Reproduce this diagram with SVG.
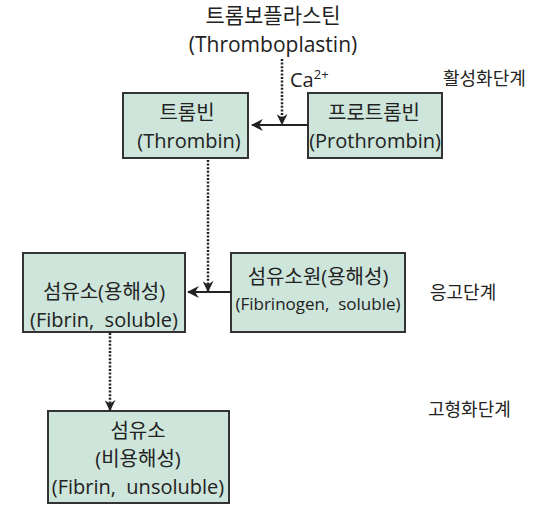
<svg xmlns="http://www.w3.org/2000/svg" width="539" height="511" viewBox="0 0 539 511">
<style>
text{font-family:"Open Sans","Noto Sans CJK KR",sans-serif;fill:#222;text-anchor:middle;white-space:pre}
.t{font-size:20px}
.h{font-size:21px}
.s{font-size:17px}
.box{fill:#cde5da;stroke:#333;stroke-width:2}
.solid{stroke:#222;stroke-width:2;fill:none}
.dot{stroke:#222;stroke-width:2.5;fill:none;stroke-dasharray:2 1.6}
.lab{font-size:18px;text-anchor:start}
</style>
<defs>
<marker id="ah" viewBox="0 0 10 10" refX="9" refY="5" markerWidth="11" markerHeight="11" orient="auto" markerUnits="userSpaceOnUse">
<path d="M0,0 L10,5 L0,10 L3,5 z" fill="#222"/>
</marker>
<marker id="ahb" viewBox="0 0 10 10" refX="9" refY="5" markerWidth="12" markerHeight="12" orient="auto" markerUnits="userSpaceOnUse">
<path d="M0,0 L10,5 L0,10 L3,5 z" fill="#222"/>
</marker>
</defs>
<g id="thromboplastin">
<text class="h"><tspan x="273" y="23">트롬보플라스틴</tspan><tspan x="273" y="52">(Thromboplastin)</tspan></text>
</g>
<g id="ca">
<text class="t" x="290" y="87" style="text-anchor:start">Ca<tspan font-size="13" dy="-8">2+</tspan></text>
</g>
<g id="thrombin">
<rect class="box" x="123" y="93" width="125" height="65"/>
<text class="t"><tspan x="187" y="120">트롬빈</tspan><tspan x="189" y="148">(Thrombin)</tspan></text>
</g>
<g id="prothrombin">
<rect class="box" x="308" y="93" width="134" height="65"/>
<text class="t"><tspan x="374" y="120">프로트롬빈</tspan><tspan x="375" y="148">(Prothrombin)</tspan></text>
</g>
<g id="fibrin-soluble">
<rect class="box" x="23" y="253" width="162" height="79"/>
<text class="t"><tspan x="104" y="299">섬유소(용해성)</tspan><tspan x="104" y="327">(Fibrin,  soluble)</tspan></text>
</g>
<g id="fibrinogen">
<rect class="box" x="231" y="253" width="174" height="79"/>
<text class="t"><tspan x="318" y="284">섬유소원(용해성)</tspan><tspan x="318" y="310" font-size="17">(Fibrinogen,  soluble)</tspan></text>
</g>
<g id="fibrin-unsoluble">
<rect class="box" x="48" y="411" width="181" height="92"/>
<text class="t"><tspan x="138" y="438">섬유소</tspan><tspan x="138" y="466">(비용해성)</tspan><tspan x="138" y="494">(Fibrin,  unsoluble)</tspan></text>
</g>
<g id="stage-labels">
<text class="lab" x="443" y="85">활성화단계</text>
<text class="lab" x="430" y="299">응고단계</text>
<text class="lab" x="428" y="416">고형화단계</text>
</g>
<g id="connectors">
<line class="solid" x1="308" y1="125" x2="252" y2="125" marker-end="url(#ahb)"/>
<line class="dot" x1="282" y1="59" x2="282" y2="124" marker-end="url(#ah)"/>
<line class="solid" x1="231" y1="292" x2="188" y2="292" marker-end="url(#ahb)"/>
<line class="dot" x1="208" y1="160" x2="208" y2="291" marker-end="url(#ah)"/>
<line class="dot" x1="110" y1="333" x2="110" y2="410" marker-end="url(#ah)"/>
</g>
</svg>
